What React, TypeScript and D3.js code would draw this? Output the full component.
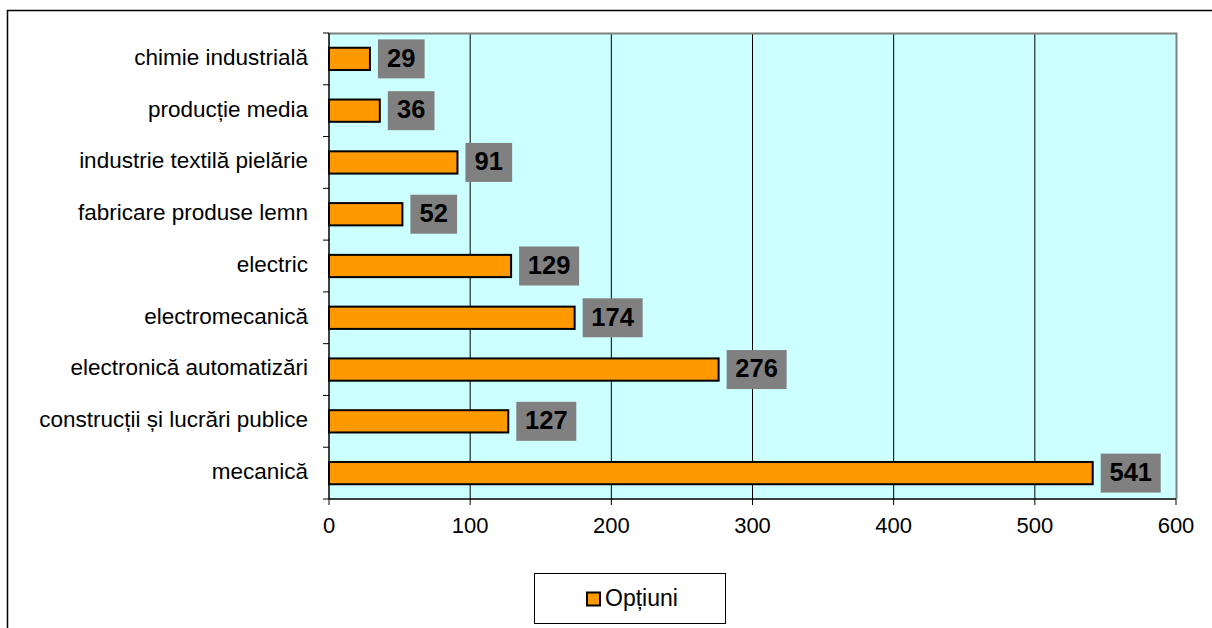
import React from "react";
import * as d3 from "d3";

const categories = [
  "chimie industrială",
  "producție media",
  "industrie textilă pielărie",
  "fabricare produse lemn",
  "electric",
  "electromecanică",
  "electronică automatizări",
  "construcții și lucrări publice",
  "mecanică",
];
const values = [29, 36, 91, 52, 129, 174, 276, 127, 541];
const xTicks = [0, 100, 200, 300, 400, 500, 600];
const seriesName = "Opțiuni";

const W = 1212;
const H = 628;
const plot = { left: 329, top: 33, right: 1176, bottom: 499 };
const FONT = "'Liberation Sans', Arial, sans-serif";

export default function App() {
  const x = d3.scaleLinear().domain([0, 600]).range([plot.left, plot.right]);
  const y = d3
    .scaleBand<string>()
    .domain(categories)
    .range([plot.top, plot.bottom])
    .paddingInner(0.57)
    .paddingOuter(0.285);
  const step = y.step();
  const boundaries = d3.range(categories.length + 1).map((i) => plot.top + i * step);
  const labelFs = 25.5;
  const boxH = 39;

  return (
    <svg
      width={W}
      height={H}
      style={{ position: "absolute", left: 0, top: 0, fontFamily: FONT }}
    >
      <rect x={0} y={0} width={W} height={H} fill="#fff" />
      <rect x={7.5} y={10.5} width={W + 10} height={H + 10} fill="none" stroke="#000" strokeWidth={1.5} />
      {/* plot area */}
      <rect
        x={plot.left}
        y={plot.top}
        width={plot.right - plot.left}
        height={plot.bottom - plot.top}
        fill="#CCFFFF"
      />
      {xTicks.slice(1, -1).map((t) => (
        <line key={t} x1={x(t)} x2={x(t)} y1={plot.top} y2={plot.bottom} stroke="#000" strokeWidth={1} />
      ))}
      <path
        d={`M${plot.left},${plot.top + 0.5}H${plot.right + 0.5}V${plot.bottom}`}
        fill="none"
        stroke="#808080"
        strokeWidth={2}
      />
      {/* bars */}
      {categories.map((c, i) => (
        <rect
          key={c}
          x={x(0)}
          y={y(c)!}
          width={x(values[i]) - x(0)}
          height={y.bandwidth()}
          fill="#FF9900"
          stroke="#000"
          strokeWidth={2}
        />
      ))}
      {/* axes */}
      <line x1={plot.left} x2={plot.left} y1={plot.top} y2={plot.bottom} stroke="#000" strokeWidth={1.5} />
      <line x1={plot.left} x2={plot.right} y1={plot.bottom} y2={plot.bottom} stroke="#000" strokeWidth={1.5} />
      {boundaries.map((b, i) => (
        <line key={i} x1={plot.left - 6} x2={plot.left} y1={b} y2={b} stroke="#000" strokeWidth={1} />
      ))}
      {xTicks.map((t) => (
        <g key={t}>
          <line x1={x(t)} x2={x(t)} y1={plot.bottom} y2={plot.bottom + 6} stroke="#000" strokeWidth={1} />
          <text x={x(t)} y={plot.bottom + 28} fontSize={22} textAnchor="middle" dominantBaseline="middle" fill="#000">
            {t}
          </text>
        </g>
      ))}
      {categories.map((c) => (
        <text
          key={c}
          x={308}
          y={y(c)! + y.bandwidth() / 2}
          fontSize={22.5}
          textAnchor="end"
          dominantBaseline="middle"
          fill="#000"
        >
          {c}
        </text>
      ))}
      {/* value labels */}
      {categories.map((c, i) => {
        const txt = String(values[i]);
        const bw = txt.length * 0.556 * 24 + 20;
        const bx = x(values[i]) + 8;
        const cy = y(c)! + y.bandwidth() / 2;
        return (
          <g key={c}>
            <rect x={bx} y={cy - boxH / 2} width={bw} height={boxH} fill="#808080" />
            <text
              x={bx + bw / 2}
              y={cy + 1}
              fontSize={labelFs}
              fontWeight="bold"
              textAnchor="middle"
              dominantBaseline="middle"
              fill="#000"
            >
              {txt}
            </text>
          </g>
        );
      })}
      {/* legend */}
      <rect x={534.5} y={573.5} width={191} height={50} fill="#fff" stroke="#000" strokeWidth={1} />
      <rect x={587} y={592.5} width={13} height={13} fill="#FF9900" stroke="#000" strokeWidth={2} />
      <text x={605} y={600} fontSize={23} dominantBaseline="middle" fill="#000">
        {seriesName}
      </text>
    </svg>
  );
}
